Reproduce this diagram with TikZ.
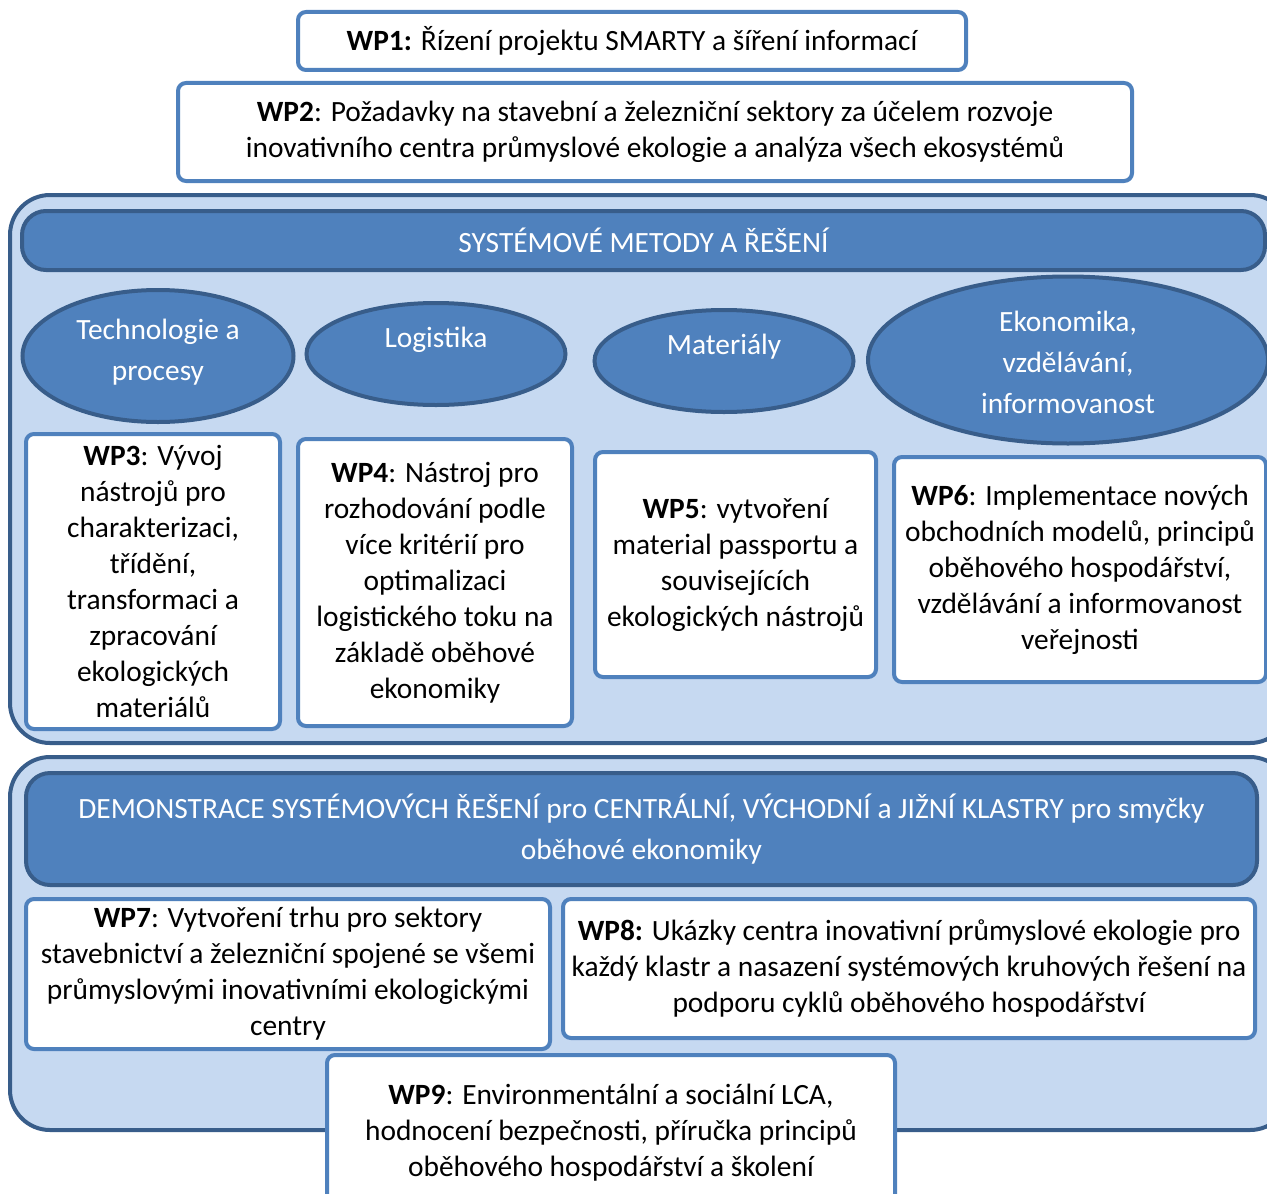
\documentclass[tikz,border=0pt]{standalone}
\usepackage{fontspec}
\setmainfont{Carlito}
\usepackage{xcolor}
\usepackage{tikz}
\usetikzlibrary{positioning, shapes.geometric}
\definecolor{wpBlue}{HTML}{4F81BD}
\definecolor{wpDark}{HTML}{385D8A}
\definecolor{wpPale}{HTML}{C6D9F1}

\begin{document}
\begin{tikzpicture}[
        x=0.5pt, y=-0.5pt,
        % Define styles for consistency
        wp/.style={
            rectangle,
            draw=wpBlue,
            line width=2pt,
            fill=white,
            rounded corners=4pt,
            align=center,
            inner sep=0pt,
            font=\fontsize{14.7}{18}\selectfont
        },
        group/.style={
            rectangle,
            draw=wpDark,
            line width=2pt,
            fill=wpPale,
            rounded corners=20pt,
            inner sep=0pt
        },
        band/.style={
            rectangle,
            draw=wpDark,
            line width=2pt,
            fill=wpBlue,
            rounded corners=12pt,
            align=center,
            inner sep=0pt,
            text=white,
            font=\fontsize{14.7}{20.5}\selectfont
        },
        topic/.style={
            ellipse,
            draw=wpDark,
            line width=2pt,
            fill=wpBlue,
            inner sep=0pt
        },
        topictext/.style={
            align=center,
            text=white,
            inner sep=0pt,
            font=\fontsize{14.7}{20.5}\selectfont
        }
    ]

    \useasboundingbox (0,0) rectangle (1267,1193);
    \clip (0,0) rectangle (1267,1193);

    % --- TOP WORK PACKAGES ---
    \node[wp, minimum width=334pt, minimum height=29pt] (wp1) at (632,41)
        {\textbf{WP1:} Řízení projektu SMARTY a šíření informací};
    \node[wp, minimum width=477pt, minimum height=49pt] (wp2) at (655,132)
        {\textbf{WP2}: Požadavky na stavební a železniční sektory za účelem rozvoje\\
         inovativního centra průmyslové ekologie a analýza všech ekosystémů};

    % --- SYSTEM METHODS ---
    \node[group, minimum width=640pt, minimum height=274pt] (sysGroup) at (650,469) {};
    \node[band, minimum width=621.5pt, minimum height=29.5pt] (sysBand) at (643.5,240.5)
        {SYSTÉMOVÉ METODY A ŘEŠENÍ};

    % Topic ellipses
    \node[topic, minimum width=135.5pt, minimum height=66pt] (techno) at (158,356) {};
    \node[topic, minimum width=129.5pt, minimum height=51pt] (logist) at (436,354) {};
    \node[topic, minimum width=129.5pt, minimum height=51pt] (mater) at (724,361) {};
    \node[topic, minimum width=200pt, minimum height=83.5pt] (ekon) at (1068,360) {};

    \node[topictext] (technoText) at ([yshift=2pt]techno.center) {Technologie a\\procesy};
    \node[topictext] (logistText) at ([yshift=7pt]logist.center) {Logistika};
    \node[topictext] (materText) at ([yshift=7pt]mater.center) {Materiály};
    \node[topictext] (ekonText) at ([yshift=-1pt]ekon.center) {Ekonomika,\\vzdělávání,\\informovanost};

    % Work packages of the methods
    \node[wp, minimum width=127pt, minimum height=147.5pt] (wp3) at (153,581.5)
        {\textbf{WP3}: Vývoj\\nástrojů pro\\charakterizaci,\\třídění,\\transformaci a\\zpracování\\ekologických\\materiálů};
    \node[wp, minimum width=137pt, minimum height=143.5pt] (wp4) at (435,582.5)
        {\textbf{WP4}: Nástroj pro\\rozhodování podle\\více kritérií pro\\optimalizaci\\logistického toku na\\základě oběhové\\ekonomiky};
    \node[wp, minimum width=140.5pt, minimum height=112.5pt] (wp5) at (735.5,564.5)
        {\textbf{WP5}: vytvoření\\material passportu a\\souvisejících\\ekologických nástrojů};
    \node[wp, minimum width=186pt, minimum height=112.5pt] (wp6) at (1080,569.5)
        {\textbf{WP6}: Implementace nových\\obchodních modelů, principů\\oběhového hospodářství,\\vzdělávání a informovanost\\veřejnosti};

    % --- DEMONSTRATION ---
    \node[group, minimum width=640pt, minimum height=186.5pt] (demoGroup) at (650,943.5) {};
    \node[band, minimum width=615.5pt, minimum height=56pt] (demoBand) at (641.5,829)
        {DEMONSTRACE SYSTÉMOVÝCH ŘEŠENÍ pro CENTRÁLNÍ, VÝCHODNÍ a JIŽNÍ KLASTRY pro smyčky\\oběhové ekonomiky};

    \node[wp, minimum width=262pt, minimum height=75pt] (wp7) at (288,974)
        {\textbf{WP7}: Vytvoření trhu pro sektory\\stavebnictví a železniční spojené se všemi\\průmyslovými inovativními ekologickými\\centry};
    \node[wp, minimum width=346pt, minimum height=69.5pt] (wp8) at (909,968.5)
        {\textbf{WP8:} Ukázky centra inovativní průmyslové ekologie pro\\každý klastr a nasazení systémových kruhových řešení na\\podporu cyklů oběhového hospodářství};

    % Cross-cutting package
    \node[wp, minimum width=284pt, minimum height=77.5pt] (wp9) at (611,1132.5)
        {\textbf{WP9}: Environmentální a sociální LCA,\\hodnocení bezpečnosti, příručka principů\\oběhového hospodářství a školení};

\end{tikzpicture}
\end{document}
